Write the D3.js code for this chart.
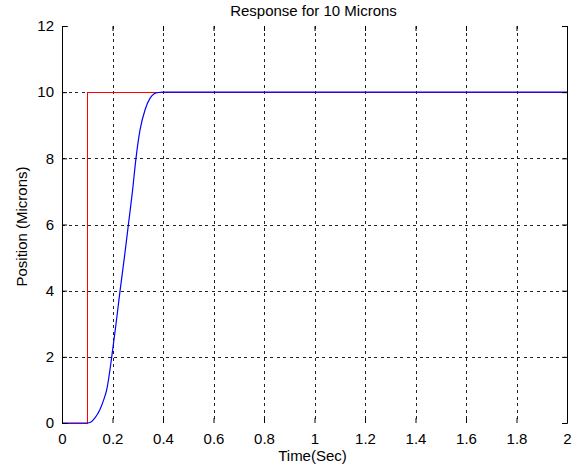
<!DOCTYPE html>
<html>
<head>
<meta charset="utf-8">
<script src="https://cdn.jsdelivr.net/npm/d3@7"></script>
<style>
  html, body { margin: 0; padding: 0; background: #fff; }
  svg { display: block; }
  text { font-family: "Liberation Sans", Arial, sans-serif; fill: #000; }
</style>
</head>
<body>
<div id="chart"></div>
<script>
// Reference input: 10 micron step applied at t = 0.1 s
const refTime = [0, 0.1, 0.1, 2];
const refPos  = [0, 0, 10, 10];

// Measured stage response
const respTime = [0, 0.1, 0.115, 0.13, 0.15, 0.165, 0.177, 0.197, 0.214, 0.230, 0.247,
                  0.263, 0.279, 0.293, 0.309, 0.329, 0.349, 0.365, 0.381, 0.40, 2];
const respPos  = [0, 0, 0.03, 0.15, 0.4, 0.7, 1.0, 2.0, 3.0, 4.0, 5.0,
                  6.0, 7.0, 8.0, 8.86, 9.47, 9.82, 9.95, 9.99, 10, 10];

const xTicks = [0, 0.2, 0.4, 0.6, 0.8, 1, 1.2, 1.4, 1.6, 1.8, 2];
const yTicks = [0, 2, 4, 6, 8, 10, 12];

const titleText = "Response for 10 Microns";
const xLabelText = "Time(Sec)";
const yLabelText = "Position (Microns)";

const W = 581, H = 471;
const plot = { left: 62, right: 567, top: 26, bottom: 423 };

const svg = d3.select("#chart").append("svg")
  .attr("width", W).attr("height", H);

const x = d3.scaleLinear().domain([0, 2]).range([plot.left, plot.right]);
const y = d3.scaleLinear().domain([0, 12]).range([plot.bottom, plot.top]);

// dashed grid
const grid = svg.append("g")
  .attr("stroke", "#222")
  .attr("stroke-width", 1)
  .attr("stroke-dasharray", "3,3.5")
  .attr("shape-rendering", "crispEdges");
grid.selectAll("line.gx").data(xTicks.slice(1, -1)).join("line")
  .attr("class", "gx")
  .attr("x1", d => Math.round(x(d)) + 0.5).attr("x2", d => Math.round(x(d)) + 0.5)
  .attr("y1", plot.top).attr("y2", plot.bottom);
grid.selectAll("line.gy").data(yTicks.slice(1, -1)).join("line")
  .attr("class", "gy")
  .attr("y1", d => Math.round(y(d)) + 0.5).attr("y2", d => Math.round(y(d)) + 0.5)
  .attr("x1", plot.left).attr("x2", plot.right);

// series
const line = d3.line().x(d => x(d[0])).y(d => y(d[1]));
const lineSmooth = d3.line().x(d => x(d[0])).y(d => y(d[1])).curve(d3.curveMonotoneX);

svg.append("path")
  .datum(d3.zip(refTime, refPos))
  .attr("fill", "none").attr("stroke", "#ff0000").attr("stroke-width", 1)
  .attr("shape-rendering", "crispEdges")
  .attr("d", line);

svg.append("path")
  .datum(d3.zip(respTime, respPos))
  .attr("fill", "none").attr("stroke", "#0000ff").attr("stroke-width", 1.2)
  .attr("d", lineSmooth);

// axes (box with inward ticks on all sides)
const tickLen = 5;
const fmt = d => String(d);

const bottomAxis = d3.axisBottom(x).tickValues(xTicks).tickSize(-tickLen).tickPadding(10).tickFormat(fmt);
const topAxis = d3.axisTop(x).tickValues(xTicks).tickSize(-tickLen).tickFormat("");
const leftAxis = d3.axisLeft(y).tickValues(yTicks).tickSize(-tickLen).tickPadding(8).tickFormat(fmt);
const rightAxis = d3.axisRight(y).tickValues(yTicks).tickSize(-tickLen).tickFormat("");

function styleAxis(g) {
  g.select(".domain").attr("stroke", "#000").attr("stroke-width", 1);
  g.selectAll(".tick line").attr("stroke", "#000");
  g.selectAll(".tick text").attr("font-size", "15px")
    .attr("font-family", "'Liberation Sans', Arial, sans-serif").attr("fill", "#000");
}

svg.append("g").attr("transform", `translate(0,${plot.bottom})`).call(bottomAxis).call(styleAxis)
  .selectAll(".tick text").attr("dy", "0.71em");
svg.append("g").attr("transform", `translate(0,${plot.top})`).call(topAxis).call(styleAxis);
svg.append("g").attr("transform", `translate(${plot.left},0)`).call(leftAxis).call(styleAxis);
svg.append("g").attr("transform", `translate(${plot.right},0)`).call(rightAxis).call(styleAxis);

// remove outer tick stubs on the domain paths
svg.selectAll(".domain").attr("d", function() { return d3.select(this).attr("d").replace(/[VH]-?5/g, m => m[0] + "0"); });

// title and axis labels
svg.append("text")
  .attr("x", (plot.left + plot.right) / 2 - 1).attr("y", 16)
  .attr("text-anchor", "middle").attr("font-size", "15px")
  .text(titleText);

svg.append("text")
  .attr("x", (plot.left + plot.right) / 2 - 2).attr("y", 461)
  .attr("text-anchor", "middle").attr("font-size", "15px")
  .text(xLabelText);

svg.append("text")
  .attr("transform", `translate(27,${(plot.top + plot.bottom) / 2 + 2}) rotate(-90)`)
  .attr("text-anchor", "middle").attr("font-size", "15px")
  .text(yLabelText);
</script>
</body>
</html>
